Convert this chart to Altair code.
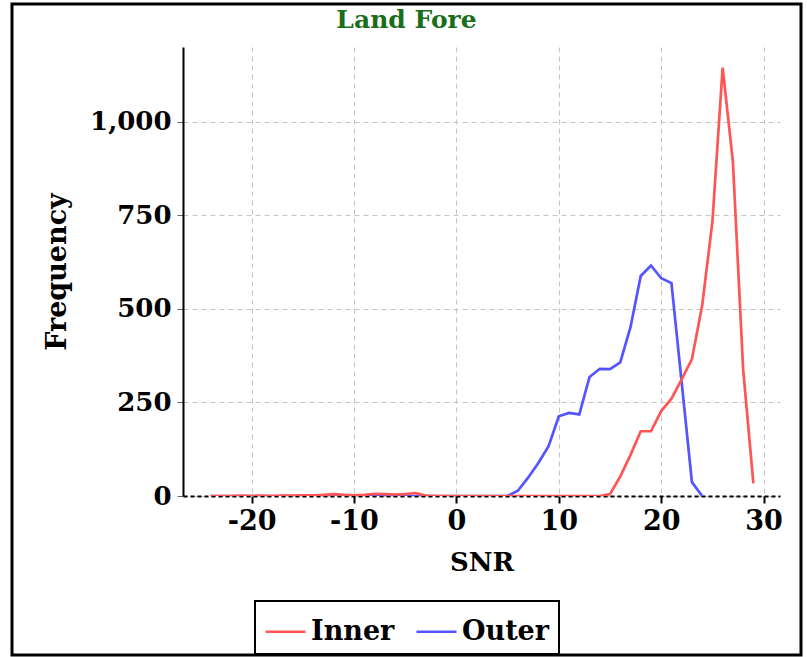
import altair as alt
import pandas as pd

# SNR bins (dB) and per-bin counts for each region
snr = list(range(-24, 30))
inner = [0, 0, 0, 1, 0, 1, 0, 1, 1, 2, 2, 3, 5, 3, 2, 3, 6, 5, 4, 5, 8, 1, 0, 0,
         0, 0, 0, 0, 0, 0, 0, 0, 0, 0, 0, 0, 0, 0, 0,
         5, 52, 110, 173, 173, 227, 260, 312, 366, 509, 733, 1145, 894, 339, 34]
outer_snr = list(range(-24, 25))
outer = [0] * 29 + [0, 14, 49, 88, 133, 213, 222, 218, 318, 340, 339, 357, 451,
                    588, 616, 582, 569, 303, 37, 0]

series = ["Inner", "Outer"]
colors = ["#ff5555", "#5555ff"]

FONT = "DejaVu Serif"

df_inner = pd.DataFrame({"SNR": snr, "Frequency": inner, "Region": "Inner"})
df_outer = pd.DataFrame({"SNR": outer_snr, "Frequency": outer, "Region": "Outer"})

x_enc = alt.X(
    "SNR:Q",
    title="SNR",
    scale=alt.Scale(domain=[-26.7, 31.6], nice=False, zero=False),
    axis=alt.Axis(
        values=[-20, -10, 0, 10, 20, 30],
        labelExpr="datum.value + ''",
        domainDash=[4, 3], domainColor="#000000", domainWidth=2,
        tickColor="#000000", tickWidth=2, tickSize=7,
        labelFontSize=27, labelPadding=5,
        titleFontSize=26, titlePadding=15,
    ),
)
y_enc = alt.Y(
    "Frequency:Q",
    title="Frequency",
    scale=alt.Scale(domain=[0, 1200], nice=False),
    axis=alt.Axis(
        values=[0, 250, 500, 750, 1000], format=",.0f",
        domainColor="#000000", domainWidth=2,
        tickColor="#666666", tickSize=6, tickWidth=1,
        labelFontSize=26, labelPadding=6,
        titleFontSize=27, titlePadding=18,
    ),
)
color_enc = alt.Color(
    "Region:N",
    scale=alt.Scale(domain=series, range=colors),
    legend=alt.Legend(
        title=None, orient="none", direction="horizontal",
        legendX=72, legendY=554,
        symbolType="stroke", symbolSize=1600, symbolStrokeWidth=2.5,
        labelFontSize=27, labelFont=FONT, labelFontWeight="bold",
        labelColor="#000000", columnPadding=16,
        strokeColor="#000000", padding=9,
        fillColor="#ffffff",
    ),
)

outer_line = alt.Chart(df_outer).mark_line(strokeWidth=2.7, clip=True).encode(
    x=x_enc, y=y_enc, color=color_enc
)
inner_line = alt.Chart(df_inner).mark_line(strokeWidth=2.7, clip=True).encode(
    x=x_enc, y=y_enc, color=color_enc
)

# frame around the whole figure
frame = alt.Chart(pd.DataFrame({"k": [0]})).mark_rect(
    fill=None, stroke="#000000", strokeWidth=3, clip=False
).encode(
    x=alt.value(-171), x2=alt.value(618),
    y=alt.value(-43), y2=alt.value(608),
)

chart = alt.layer(frame, outer_line, inner_line).properties(
    width=597,
    height=449,
    autosize=alt.AutoSizeParams(type="none"),
    padding={"left": 183, "top": 47, "right": 27, "bottom": 161},
    title=alt.Title(
        "Land Fore", font=FONT, fontSize=25, fontWeight="bold",
        color="#1a6e1a", anchor="middle", frame="bounds", offset=-30,
    ),
).configure(
    background="#ffffff",
).configure_view(
    stroke=None,
).configure_legend(
    strokeWidth=2,
).configure_axis(
    labelFont=FONT, titleFont=FONT, labelFontWeight="bold", titleFontWeight="bold",
    labelColor="#000000", titleColor="#000000",
    gridColor="#c4c4c4", gridDash=[5, 4], gridWidth=1,
)

chart.save("out.html", embed_options={"renderer": "svg", "actions": False})
